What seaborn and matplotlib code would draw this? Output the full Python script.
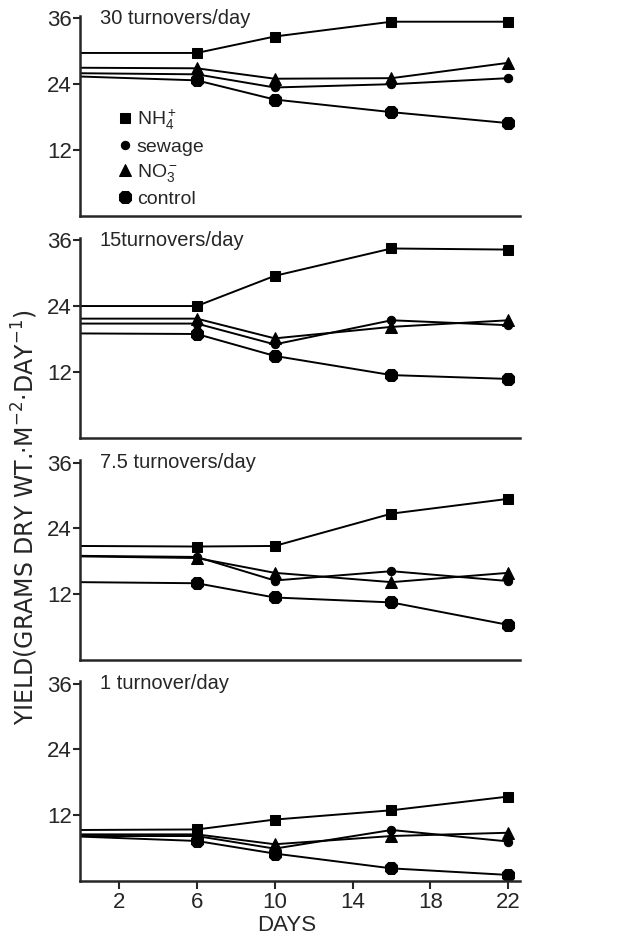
import numpy as np
import pandas as pd
import matplotlib
matplotlib.use("Agg")
import matplotlib.pyplot as plt
import seaborn as sns

# ---- data ----
days = [0, 6, 10, 16, 22]
panels = ["30 turnovers/day", "15turnovers/day", "7.5 turnovers/day", "1 turnover/day"]
series = ["NH$_4^+$", "sewage", "NO$_3^-$", "control"]

nh4_30 = [29.7, 29.7, 32.7, 35.4, 35.4]
sew_30 = [26.0, 25.8, 23.4, 24.0, 25.1]
no3_30 = [27.0, 26.9, 25.0, 25.1, 27.9]
con_30 = [25.4, 24.7, 21.2, 18.9, 16.9]

nh4_15 = [24.0, 24.0, 29.5, 34.5, 34.3]
sew_15 = [20.8, 20.8, 17.0, 21.4, 20.5]
no3_15 = [21.7, 21.7, 18.1, 20.2, 21.4]
con_15 = [19.0, 18.9, 14.9, 11.4, 10.7]

nh4_75 = [20.8, 20.7, 20.8, 26.7, 29.4]
sew_75 = [19.0, 18.8, 14.5, 16.2, 14.4]
no3_75 = [18.9, 18.6, 15.9, 14.2, 15.9]
con_75 = [14.2, 14.0, 11.4, 10.5, 6.4]

nh4_1 = [9.3, 9.4, 11.2, 12.9, 15.4]
sew_1 = [8.2, 8.2, 5.9, 9.3, 7.2]
no3_1 = [8.5, 8.5, 6.7, 8.2, 8.8]
con_1 = [8.1, 7.3, 5.0, 2.3, 1.1]

yticks = [12, 24, 36]
xticks = [2, 6, 10, 14, 18, 22]

panel_data = [
    [nh4_30, sew_30, no3_30, con_30],
    [nh4_15, sew_15, no3_15, con_15],
    [nh4_75, sew_75, no3_75, con_75],
    [nh4_1, sew_1, no3_1, con_1],
]

rows = []
for p, plist in zip(panels, panel_data):
    for s, vals in zip(series, plist):
        for d, v in zip(days, vals):
            rows.append(dict(panel=p, series=s, day=d, value=v))
df = pd.DataFrame(rows)

# ---- style ----
sns.set_style("ticks")
plt.rcParams['font.family'] = ['Liberation Sans', 'DejaVu Sans']
plt.rcParams['mathtext.fontset'] = 'custom'
plt.rcParams['mathtext.rm'] = 'Liberation Sans'
plt.rcParams['mathtext.it'] = 'Liberation Sans'

markers = {series[0]: 's', series[1]: 'o', series[2]: '^', series[3]: '8'}
msizes = {series[0]: 7, series[1]: 6, series[2]: 8.5, series[3]: 10}

fig = plt.figure(figsize=(6.18, 9.38), dpi=100)
bottoms = [0.770, 0.5335, 0.2964, 0.0608]
left, width, height = 0.1294, 0.712, 0.2127

for i, (p, b) in enumerate(zip(panels, bottoms)):
    ax = fig.add_axes([left, b, width, height])
    sub = df[df.panel == p]
    for s in series:
        ss = sub[sub.series == s]
        sns.lineplot(data=ss, x="day", y="value", ax=ax, color="black",
                     linewidth=1.4, marker=markers[s], markersize=msizes[s],
                     markevery=[1, 2, 3, 4], markeredgecolor="black",
                     markerfacecolor="black", label=s, legend=False)
    ax.set_xlim(0, 22.6)
    ax.set_ylim(0, 36.4)
    ax.set_yticks(yticks)
    ax.set_yticklabels([str(t) for t in yticks], fontsize=16)
    ax.set_xlabel("")
    ax.set_ylabel("")
    for sp in ["top", "right"]:
        ax.spines[sp].set_visible(False)
    for sp in ["left", "bottom"]:
        ax.spines[sp].set_linewidth(1.8)
    ax.tick_params(axis="y", direction="out", length=5, width=1.5, pad=1)
    if i == 3:
        ax.set_xticks(xticks)
        ax.set_xticklabels([str(t) for t in xticks], fontsize=16)
        ax.tick_params(axis="x", direction="out", length=6, width=1.5, pad=2)
    else:
        ax.set_xticks([])
    ax.text(0.045, 36, p, transform=ax.get_yaxis_transform(), fontsize=14.5,
            va="center", ha="left")
    if i == 0:
        handles, labels = ax.get_legend_handles_labels()
        ax.legend(handles, labels, loc="upper left", bbox_to_anchor=(0.085, 0.58),
                  frameon=False, handlelength=0, handletextpad=0.6,
                  labelspacing=0.32, fontsize=14, borderaxespad=0)

fig.text(0.04, 0.448, "YIELD(GRAMS DRY WT.·M$^{-2}$·DAY$^{-1}$)", rotation=90,
         fontsize=17, ha="center", va="center",
         family=['DejaVu Sans'], math_fontfamily='dejavusans')
fig.text(0.464, 0.013, "DAYS", fontsize=16, ha="center", va="center")

fig.savefig("out.png", dpi=100)
